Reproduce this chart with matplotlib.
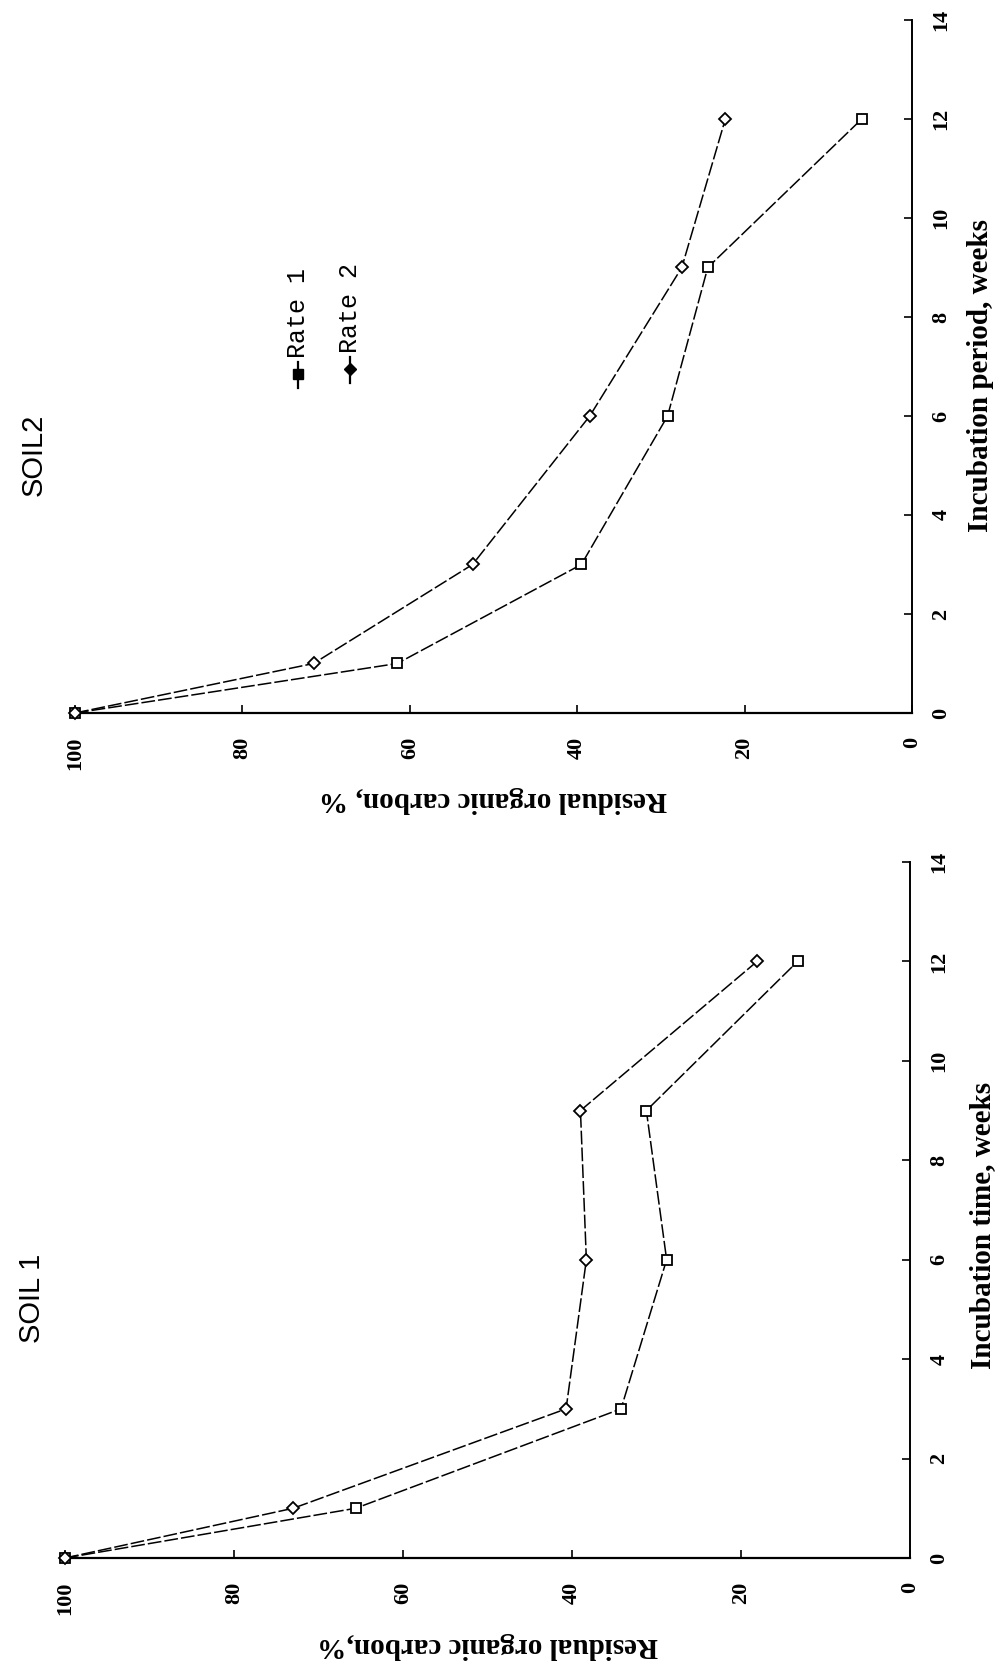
import matplotlib.pyplot as plt

# incubation time (weeks)
weeks = [0, 1, 3, 6, 9, 12]

# SOIL 1 - residual organic carbon, %
soil1_rate1 = [100, 65.6, 34.2, 28.8, 31.2, 13.3]
soil1_rate2 = [100, 73.0, 40.7, 38.3, 39.0, 18.1]

# SOIL2 - residual organic carbon, %
soil2_rate1 = [100, 61.5, 39.5, 29.2, 24.4, 6.0]
soil2_rate2 = [100, 71.5, 52.5, 38.5, 27.5, 22.3]

carbon_ticks = [100, 80, 60, 40, 20, 0]
week_ticks = [0, 2, 4, 6, 8, 10, 12, 14]

W, H = 1007, 1669
serif = 'Liberation Serif'

fig = plt.figure(figsize=(W / 100, H / 100), dpi=100)


def px_box(left, right, bottom, top):
    # pixel edges (y measured from the top of the page) -> figure fraction
    return [left / W, 1 - bottom / H, (right - left) / W, (bottom - top) / H]


def panel(box, r1, r2):
    ax = fig.add_axes(box)
    # page is turned a quarter: carbon runs right-to-left, time runs upward
    ax.plot(r1, weeks, color='black', lw=1.1, ls=(0, (9, 2)), clip_on=False,
            marker='s', ms=7.5, mfc='white', mec='black', mew=1.3, zorder=3)
    ax.plot(r2, weeks, color='black', lw=1.1, ls=(0, (9, 2)), clip_on=False,
            marker='D', ms=6.5, mfc='white', mec='black', mew=1.3, zorder=3)
    ax.set_xlim(100, 0)
    ax.set_ylim(0, 14)
    for s in ['top', 'left']:
        ax.spines[s].set_visible(False)
    ax.spines['bottom'].set_linewidth(1.6)
    ax.spines['right'].set_linewidth(1.4)
    ax.spines['right'].set_linestyle((0, (5, 1)))
    ax.set_xticks(carbon_ticks)
    ax.set_xticklabels([str(v) for v in carbon_ticks], rotation=90,
                       fontfamily=serif, fontweight='bold', fontsize=16)
    ax.yaxis.tick_right()
    ax.set_yticks(week_ticks)
    ax.set_yticklabels([str(v) for v in week_ticks], rotation=90,
                       fontfamily=serif, fontweight='bold', fontsize=16,
                       va='center')
    ax.tick_params(axis='x', direction='in', length=6, width=1.2, pad=17)
    ax.tick_params(axis='y', direction='in', length=6, width=1.2, pad=14)
    ax.patch.set_alpha(0)
    return ax


ax2 = panel(px_box(75, 912, 713, 20), soil2_rate1, soil2_rate2)
ax1 = panel(px_box(65, 910, 1558, 862), soil1_rate1, soil1_rate2)

lab = dict(fontfamily=serif, fontweight='bold', fontsize=21,
           ha='center', va='center')
fig.text(493 / W, 1 - 800 / H, 'Residual organic carbon, %', rotation=180, **lab)
fig.text(980 / W, 1 - 375 / H, 'Incubation period, weeks', rotation=90, **lab)
fig.text(488 / W, 1 - 1645 / H, 'Residual organic carbon,%', rotation=180, **lab)
fig.text(983 / W, 1 - 1225 / H, 'Incubation time, weeks', rotation=90, **lab)

ttl = dict(fontfamily='Liberation Sans', fontsize=21, rotation=90,
           ha='center', va='center')
fig.text(34 / W, 1 - 455 / H, 'SOIL2', **ttl)
fig.text(32 / W, 1 - 1298 / H, 'SOIL 1', **ttl)

# legend (turned with the page)
leg = fig.add_axes([0, 0, 1, 1])
leg.set_xlim(0, W)
leg.set_ylim(H, 0)
leg.axis('off')
for x, y0, mk, name in [(298, 374, 's', 'Rate 1'), (350, 369, 'D', 'Rate 2')]:
    leg.plot([x, x], [y0 - 12, y0 + 14], color='black', lw=1.6)
    leg.plot([x], [y0], marker=mk, ms=6.5, color='black')
    leg.text(x, y0 - 16, name, rotation=90, ha='center', va='bottom',
             fontfamily='Liberation Mono', fontsize=18)

fig.savefig('out.png', dpi=100)
